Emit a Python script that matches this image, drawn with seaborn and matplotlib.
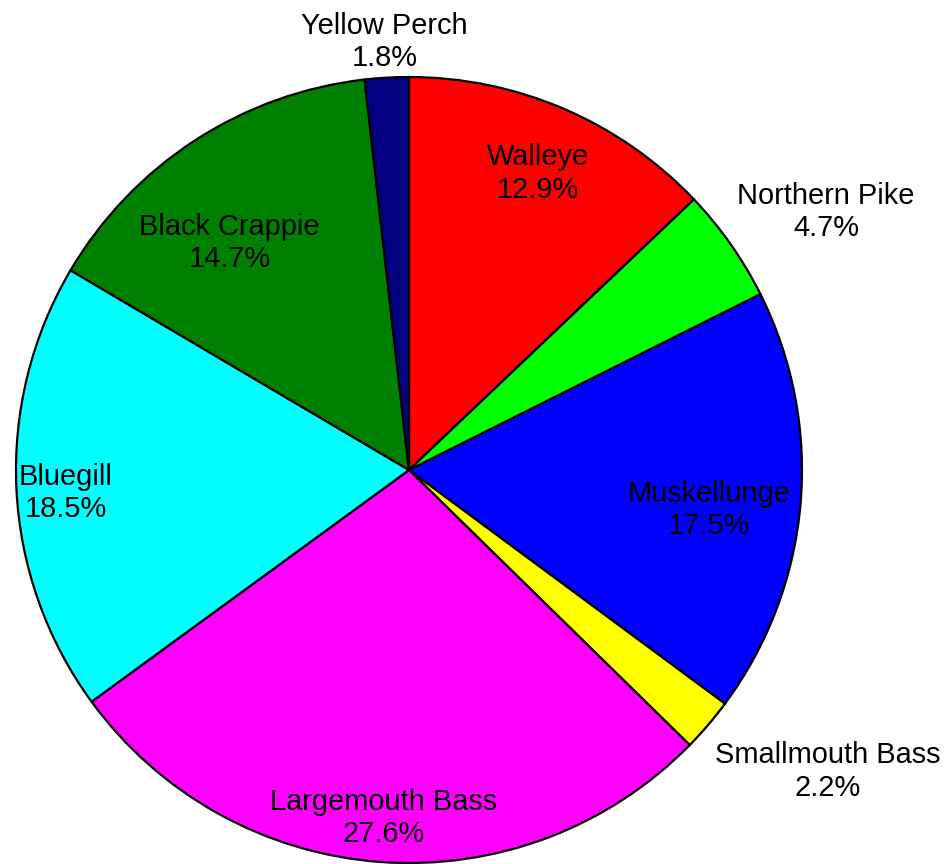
import numpy as np
import matplotlib
matplotlib.use("Agg")
import matplotlib.pyplot as plt
import seaborn as sns

# Catch composition by species (percent), clockwise from 12 o'clock
species = ["Walleye", "Northern Pike", "Muskellunge", "Smallmouth Bass",
           "Largemouth Bass", "Bluegill", "Black Crappie", "Yellow Perch"]
percent = [12.9, 4.7, 17.5, 2.2, 27.6, 18.5, 14.7, 1.8]
colors = ["#FF0000", "#00FF00", "#0000FF", "#FFFF00",
          "#FF00FF", "#00FFFF", "#008000", "#000080"]
# radial distance of each label (in pie radii) and a small angular nudge (deg, clockwise)
label_dist = [0.83, 1.252, 0.768, 1.308, 0.88, 0.875, 0.743, 1.099]
label_nudge = [0.0, 3.0, 2.0, -5.0, 0.0, -0.5, -5.0, 0.0]

sns.set_theme(style="white")
plt.rcParams["font.family"] = ["Liberation Sans", "DejaVu Sans"]

fig = plt.figure(figsize=(9.47, 8.64), dpi=100)
ax = fig.add_axes([0, 0, 1, 1])

wedges, _ = ax.pie(percent, colors=colors, startangle=90, counterclock=False,
                   radius=1.0,
                   wedgeprops=dict(edgecolor="black", linewidth=1.6))

# Label each wedge with its name and share
total = sum(percent)
start = 90.0
for name, p, d, nd in zip(species, percent, label_dist, label_nudge):
    mid = np.deg2rad(start - 360.0 * p / total / 2 - nd)
    start -= 360.0 * p / total
    ax.text(d * np.cos(mid), d * np.sin(mid) - 0.008, f"{name}\n{p:.1f}%",
            ha="center", va="center", fontsize=20.9, color="black",
            linespacing=1.2)

ax.set_xlim(-1.0407, 1.369)
ax.set_ylim(-1.0025, 1.196)
ax.set_aspect("equal")
ax.axis("off")

fig.savefig("out.png", dpi=100, facecolor="white")
